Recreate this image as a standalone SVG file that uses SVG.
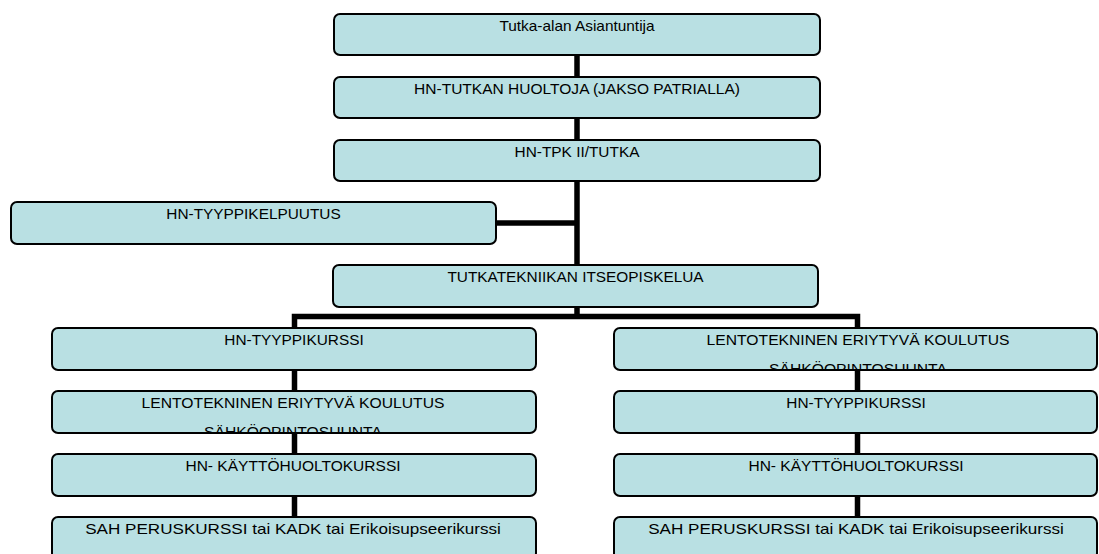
<svg xmlns="http://www.w3.org/2000/svg" width="1099" height="554" viewBox="0 0 1099 554">
<style>
.box{fill:#b9e0e3;stroke:#000;stroke-width:2}
.lbl{font-family:"Liberation Sans",Arial,sans-serif;font-size:14px;fill:#000;text-anchor:middle}
.con{fill:none;stroke:#000;stroke-width:5.5;stroke-linejoin:miter;stroke-linecap:butt}
</style>
<defs>
<clipPath id="clipL2"><rect x="52" y="391" width="484" height="41"/></clipPath>
<clipPath id="clipR1"><rect x="614" y="328" width="483" height="41"/></clipPath>
</defs>
<rect width="1099" height="554" fill="#fff"/>
<g id="connectors">
<path class="con" d="M577,55 V317"/>
<path class="con" d="M496,223 H577"/>
<path class="con" d="M294.5,328 V316.5 H857.5 V328"/>
<path class="con" d="M294.5,370 V517"/>
<path class="con" d="M857.5,370 V517"/>
</g>
<g id="n1"><rect class="box" x="334" y="14" width="486" height="41" rx="6"/>
<text class="lbl" transform="translate(577,31) scale(1.1,1)">Tutka-alan Asiantuntija</text></g>
<g id="n2"><rect class="box" x="334" y="77" width="486" height="41" rx="6"/>
<text class="lbl" transform="translate(577,94) scale(1.11,1)">HN-TUTKAN HUOLTOJA (JAKSO PATRIALLA)</text></g>
<g id="n3"><rect class="box" x="334" y="140" width="486" height="41" rx="6"/>
<text class="lbl" transform="translate(577,157) scale(1.1,1)">HN-TPK II/TUTKA</text></g>
<g id="n4"><rect class="box" x="11" y="202" width="485" height="42" rx="6"/>
<text class="lbl" transform="translate(253.5,219) scale(1.1,1)">HN-TYYPPIKELPUUTUS</text></g>
<g id="n5"><rect class="box" x="333" y="265" width="485" height="42" rx="6"/>
<text class="lbl" transform="translate(575.5,282) scale(1.1,1)">TUTKATEKNIIKAN ITSEOPISKELUA</text></g>
<g id="l1"><rect class="box" x="52" y="328" width="484" height="42" rx="6"/>
<text class="lbl" transform="translate(294,345) scale(1.1,1)">HN-TYYPPIKURSSI</text></g>
<g id="l2"><rect class="box" x="52" y="391" width="484" height="42" rx="6"/>
<g clip-path="url(#clipL2)"><text class="lbl" transform="translate(293,408) scale(1.12,1)">LENTOTEKNINEN ERIYTYVÄ KOULUTUS</text>
<text class="lbl" transform="translate(293,437) scale(1.12,1)">SÄHKÖOPINTOSUUNTA</text></g></g>
<g id="l3"><rect class="box" x="52" y="454" width="484" height="42" rx="6"/>
<text class="lbl" transform="translate(293,471) scale(1.11,1)">HN- KÄYTTÖHUOLTOKURSSI</text></g>
<g id="l4"><rect class="box" x="52" y="517" width="484" height="42" rx="6"/>
<text class="lbl" transform="translate(293,534) scale(1.22,1)">SAH PERUSKURSSI tai KADK tai Erikoisupseerikurssi</text></g>
<g id="r1"><rect class="box" x="614" y="328" width="483" height="42" rx="6"/>
<g clip-path="url(#clipR1)"><text class="lbl" transform="translate(858,345) scale(1.12,1)">LENTOTEKNINEN ERIYTYVÄ KOULUTUS</text>
<text class="lbl" transform="translate(858,374) scale(1.12,1)">SÄHKÖOPINTOSUUNTA</text></g></g>
<g id="r2"><rect class="box" x="614" y="391" width="483" height="42" rx="6"/>
<text class="lbl" transform="translate(856,408) scale(1.1,1)">HN-TYYPPIKURSSI</text></g>
<g id="r3"><rect class="box" x="614" y="454" width="483" height="42" rx="6"/>
<text class="lbl" transform="translate(856,471) scale(1.11,1)">HN- KÄYTTÖHUOLTOKURSSI</text></g>
<g id="r4"><rect class="box" x="614" y="517" width="483" height="42" rx="6"/>
<text class="lbl" transform="translate(856,534) scale(1.22,1)">SAH PERUSKURSSI tai KADK tai Erikoisupseerikurssi</text></g>
</svg>
